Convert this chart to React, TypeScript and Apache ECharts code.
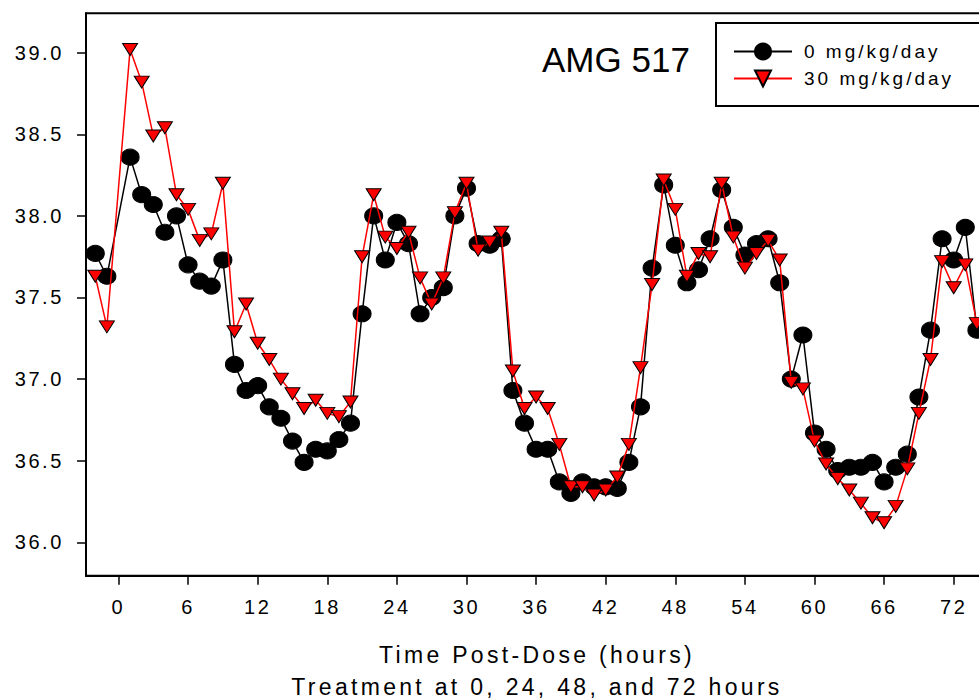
import React, { useEffect, useRef } from "react";
import * as echarts from "echarts";

const hours = [
  -2, -1, 1, 2, 3, 4, 5, 6, 7, 8, 9, 10, 11, 12, 13, 14, 15, 16, 17, 18, 19, 20,
  21, 22, 23, 24, 25, 26, 27, 28, 29, 30, 31, 32, 33, 34, 35, 36, 37, 38, 39, 40,
  41, 42, 43, 44, 45, 46, 47, 48, 49, 50, 51, 52, 53, 54, 55, 56, 57, 58, 59, 60,
  61, 62, 63, 64, 65, 66, 67, 68, 69, 70, 71, 72, 73, 74,
];

const dose0 = [
  37.77, 37.63, 38.36, 38.13, 38.07, 37.9, 38.0, 37.7, 37.6, 37.57, 37.73, 37.09,
  36.93, 36.96, 36.83, 36.76, 36.62, 36.49, 36.57, 36.56, 36.63, 36.73, 37.4, 38.0,
  37.73, 37.96, 37.83, 37.4, 37.5, 37.56, 38.0, 38.17, 37.83, 37.82, 37.86, 36.93,
  36.73, 36.57, 36.57, 36.37, 36.3, 36.37, 36.34, 36.34, 36.33, 36.49, 36.83, 37.68,
  38.19, 37.82, 37.59, 37.67, 37.86, 38.16, 37.93, 37.76, 37.83, 37.86, 37.59, 37.0,
  37.27, 36.67, 36.57, 36.44, 36.46, 36.46, 36.49, 36.37, 36.46, 36.54, 36.89, 37.3,
  37.86, 37.73, 37.93, 37.3,
];

const dose30 = [
  37.63, 37.32, 39.02, 38.82, 38.49, 38.54, 38.13, 38.04, 37.85, 37.89, 38.2, 37.29,
  37.46, 37.22, 37.12, 37.0, 36.91, 36.82, 36.87, 36.79, 36.77, 36.86, 37.75, 38.13,
  37.87, 37.8, 37.9, 37.62, 37.46, 37.62, 38.02, 38.2, 37.79, 37.84, 37.9, 37.05,
  36.82, 36.89, 36.82, 36.6, 36.34, 36.34, 36.29, 36.32, 36.4, 36.6, 37.07, 37.58,
  38.22, 38.04, 37.63, 37.77, 37.75, 38.2, 37.87, 37.68, 37.77, 37.85, 37.73, 36.98,
  36.94, 36.62, 36.48, 36.39, 36.32, 36.24, 36.15, 36.12, 36.22, 36.45, 36.79, 37.12,
  37.72, 37.56, 37.7, 37.34,
];

const xTicks = [0, 6, 12, 18, 24, 30, 36, 42, 48, 54, 60, 66, 72];
const yTicks = [36.0, 36.5, 37.0, 37.5, 38.0, 38.5, 39.0];

const seriesNames = ["0 mg/kg/day", "30 mg/kg/day"];
const chartTitle = "AMG 517";
const xTitle1 = "Time Post-Dose (hours)";
const xTitle2 = "Treatment at 0, 24, 48, and 72 hours";

const FONT = "'Liberation Sans', Arial, Helvetica, sans-serif";

export default function App() {
  const ref = useRef<HTMLDivElement>(null);

  useEffect(() => {
    if (!ref.current) return;
    const chart = echarts.init(ref.current, null, { renderer: "svg" });

    chart.setOption({
      animation: false,
      backgroundColor: "#fff",
      textStyle: { fontFamily: FONT },
      title: {
        text: chartTitle,
        left: 542,
        top: 42,
        padding: 0,
        textStyle: { fontSize: 35, fontWeight: "normal", color: "#000", fontFamily: FONT },
      },
      legend: {
        orient: "vertical",
        left: 716,
        top: 23,
        padding: [19, 90, 18, 17],
        itemWidth: 58,
        itemHeight: 20,
        itemGap: 8,
        borderColor: "#000",
        borderWidth: 2,
        backgroundColor: "#fff",
        textStyle: { fontSize: 19, color: "#000", fontFamily: FONT, padding: [0, 0, 0, 7] },
        data: seriesNames,
      },
      grid: {
        left: 86,
        top: 13.3,
        width: 902.5,
        height: 562.5,
        outerBoundsMode: "none",
        containLabel: false,
        show: true,
        borderColor: "#000",
        borderWidth: 2,
        backgroundColor: "transparent",
      },
      xAxis: {
        type: "value",
        min: -2.8,
        max: 75,
        axisLine: { show: true, onZero: false, lineStyle: { color: "#000", width: 2 } },
        axisTick: {
          show: true,
          customValues: xTicks,
          length: 9,
          lineStyle: { color: "#000", width: 1.5 },
        },
        axisLabel: {
          customValues: xTicks,
          fontSize: 20,
          color: "#000",
          margin: 21,
          fontFamily: FONT,
        },
        splitLine: { show: false },
      },
      yAxis: {
        type: "value",
        min: 35.7947,
        max: 39.2414,
        axisLine: { show: true, onZero: false, lineStyle: { color: "#000", width: 2 } },
        axisTick: {
          show: true,
          customValues: yTicks,
          length: 9,
          lineStyle: { color: "#000", width: 1.5 },
        },
        axisLabel: {
          customValues: yTicks,
          fontSize: 20,
          color: "#000",
          margin: 22,
          fontFamily: FONT,
          formatter: (v: number) => v.toFixed(1),
        },
        splitLine: { show: false },
      },
      graphic: [
        {
          type: "text",
          x: 537,
          y: 655,
          style: {
            text: xTitle1,
            fontSize: 23,
            fontFamily: FONT,
            fill: "#000",
            textAlign: "center",
            textVerticalAlign: "middle",
          },
        },
        {
          type: "text",
          x: 537,
          y: 687,
          style: {
            text: xTitle2,
            fontSize: 23,
            fontFamily: FONT,
            fill: "#000",
            textAlign: "center",
            textVerticalAlign: "middle",
          },
        },
      ],
      series: [
        {
          name: seriesNames[0],
          type: "line",
          data: hours.map((h, i) => [h, dose0[i]]),
          symbol: "circle",
          symbolSize: [18, 16],
          lineStyle: { color: "#000", width: 1.5 },
          itemStyle: { color: "#000", borderColor: "#000", borderWidth: 1 },
          z: 2,
        },
        {
          name: seriesNames[1],
          type: "line",
          data: hours.map((h, i) => [h, dose30[i]]),
          symbol: "triangle",
          symbolRotate: 180,
          symbolSize: [15, 12],
          lineStyle: { color: "#ff0000", width: 1.5 },
          itemStyle: { color: "#ff0000", borderColor: "#000", borderWidth: 1 },
          z: 3,
        },
      ],
    });

    const applySpacing = () => {
      const root = ref.current;
      if (!root) return;
      root.querySelectorAll("text").forEach((t) => {
        const s = t.textContent || "";
        if (s === chartTitle) return;
        if (s === xTitle1 || s === xTitle2) t.setAttribute("letter-spacing", "3.3");
        else if (seriesNames.includes(s)) t.setAttribute("letter-spacing", "3");
        else t.setAttribute("letter-spacing", "2.6");
      });
    };
    applySpacing();
    chart.on("finished", applySpacing);

    return () => {
      chart.dispose();
    };
  }, []);

  return (
    <div
      ref={ref}
      style={{ position: "fixed", left: 0, top: 0, width: 979, height: 699, background: "#fff" }}
    />
  );
}
